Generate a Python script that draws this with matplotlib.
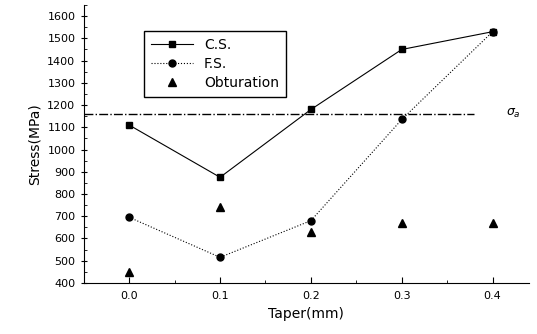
import numpy as np
import matplotlib.pyplot as plt
from matplotlib.ticker import MultipleLocator

taper = [0.0, 0.1, 0.2, 0.3, 0.4]
cs = [1110, 875, 1180, 1450, 1530]
fs = [695, 515, 680, 1135, 1530]
obturation = [450, 740, 630, 670, 670]
sigma_a = 1160

fig = plt.figure(figsize=(5.37, 3.34), dpi=100)
ax = fig.add_axes([0.156, 0.153, 0.829, 0.832])

ax.plot(taper, cs, '-', color='black', lw=0.8, marker='s', ms=5, label='C.S.')
ax.plot(taper, fs, ':', color='black', lw=0.8, marker='o', ms=5, label='F.S.')
ax.plot(taper, obturation, ' ', color='black', marker='^', ms=6, label='Obturation')
ax.plot([-0.05, 0.38], [sigma_a, sigma_a], '-.', color='black', lw=1.0)
ax.text(0.415, sigma_a, r'$\sigma_a$', fontsize=9, va='center')

ax.set_xlim(-0.05, 0.44)
ax.set_ylim(400, 1650)
ax.set_xticks(taper)
ax.set_xticklabels(['0.0', '0.1', '0.2', '0.3', '0.4'])
ax.xaxis.set_minor_locator(MultipleLocator(0.05))
ax.yaxis.set_major_locator(MultipleLocator(100))
ax.yaxis.set_minor_locator(MultipleLocator(50))
ax.tick_params(axis='both', labelsize=8)
ax.tick_params(axis='x', direction='in', length=4, pad=6)
ax.tick_params(axis='x', which='minor', direction='in', length=2)
ax.tick_params(axis='y', direction='inout', length=5)
ax.tick_params(axis='y', which='minor', direction='in', length=2)
ax.spines['top'].set_visible(False)
ax.spines['right'].set_visible(False)
ax.set_xlabel('Taper(mm)', fontsize=10)
ax.set_ylabel('Stress(MPa)', fontsize=10)

ax.legend(loc='upper left', bbox_to_anchor=(0.12, 0.93), fontsize=10,
          fancybox=False, edgecolor='black', framealpha=1, handlelength=3,
          labelspacing=0.35, borderpad=0.5)

fig.savefig('out.png', dpi=100)
